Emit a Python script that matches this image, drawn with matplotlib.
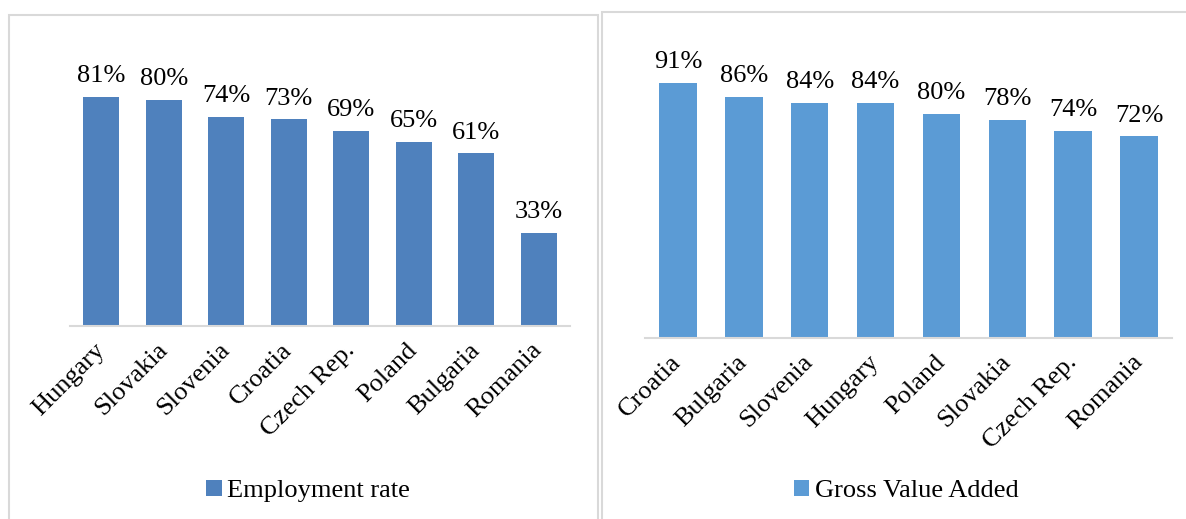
import matplotlib.pyplot as plt
from matplotlib.patches import Rectangle

plt.rcParams["font.family"] = ["Liberation Serif", "DejaVu Serif"]

# left panel
emp_countries = ["Hungary", "Slovakia", "Slovenia", "Croatia", "Czech Rep.", "Poland", "Bulgaria", "Romania"]
emp_rate = [81, 80, 74, 73, 69, 65, 61, 33]

# right panel
gva_countries = ["Croatia", "Bulgaria", "Slovenia", "Hungary", "Poland", "Slovakia", "Czech Rep.", "Romania"]
gva_share = [91, 86, 84, 84, 80, 78, 74, 72]

W, H = 1186, 519
FS = 19
fig = plt.figure(figsize=(W / 100, H / 100), dpi=100)

# panel frames (pixel coords -> figure fraction)
for x0, x1, y0 in [(9, 598, 15), (602, 1190, 12)]:
    fig.patches.append(Rectangle((x0 / W, -0.01), (x1 - x0) / W, 1.01 - y0 / H,
                                 transform=fig.transFigure, fill=False,
                                 edgecolor="#d9d9d9", linewidth=1.5))


def panel(rect, cats, vals, color, label, legend_x):
    ax = fig.add_axes(rect)
    bars = ax.bar(range(len(cats)), vals, width=0.57, color=color, label=label)
    ax.bar_label(bars, labels=[f"{v}%" for v in vals], padding=7, fontsize=FS)
    ax.set_xlim(-0.5, len(cats) - 0.5)
    ax.set_ylim(0, 100)
    ax.set_xticks(range(len(cats)))
    ax.set_xticklabels(cats, rotation=45, ha="right", va="center",
                       rotation_mode="anchor", fontsize=FS)
    ax.tick_params(axis="x", length=0, pad=15)
    ax.set_yticks([])
    for s in ["top", "left", "right"]:
        ax.spines[s].set_visible(False)
    ax.spines["bottom"].set_color("#d9d9d9")
    ax.spines["bottom"].set_linewidth(1.5)
    fig.legend(handles=[bars], labels=[label], loc="center",
               bbox_to_anchor=(legend_x / W, (H - 491) / H), frameon=False,
               fontsize=FS, handlelength=0.6, handleheight=0.6, handletextpad=0.2)
    return ax


panel([70 / W, (H - 326) / H, 500 / W, 283 / H], emp_countries, emp_rate,
      "#4f81bd", "Employment rate", 308)
panel([645 / W, (H - 338) / H, 527 / W, 280 / H], gva_countries, gva_share,
      "#5b9bd5", "Gross Value Added", 906)

fig.savefig("out.png", dpi=100)
